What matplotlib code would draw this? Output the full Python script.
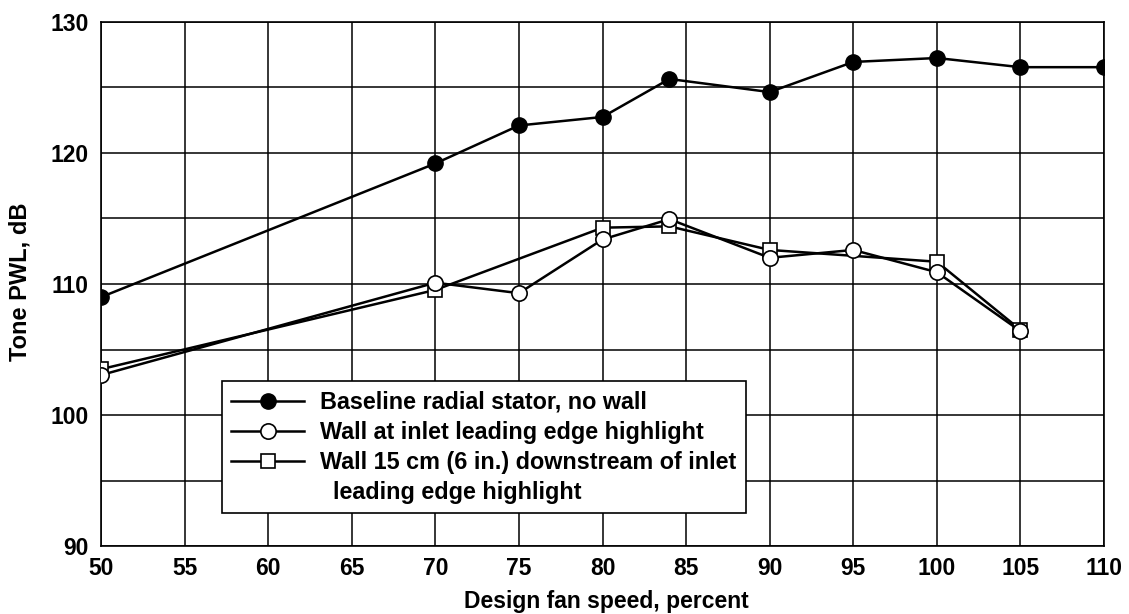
import matplotlib.pyplot as plt

plt.rcParams['font.family'] = ['Liberation Sans', 'DejaVu Sans']
plt.rcParams['font.weight'] = 'bold'

# Baseline radial stator, no wall
base_x = [50, 70, 75, 80, 84, 90, 95, 100, 105, 110]
base_y = [109.0, 119.2, 122.1, 122.75, 125.65, 124.65, 126.95, 127.25, 126.55, 126.55]

# Wall at inlet leading edge highlight
inlet_x = [50, 70, 75, 80, 84, 90, 95, 100, 105]
inlet_y = [103.05, 110.1, 109.3, 113.4, 114.95, 112.0, 112.6, 110.9, 106.4]

# Wall 15 cm (6 in.) downstream of inlet leading edge highlight
down_x = [50, 70, 80, 84, 90, 100, 105]
down_y = [103.5, 109.55, 114.3, 114.4, 112.6, 111.7, 106.5]

labels = ['Baseline radial stator, no wall',
          'Wall at inlet leading edge highlight',
          'Wall 15 cm (6 in.) downstream of inlet',
          '  leading edge highlight']

fig = plt.figure(figsize=(11.29, 6.14), dpi=100)
ax = fig.add_axes([0.0895, 0.1107, 0.8884, 0.8535])

ax.plot(base_x, base_y, '-o', color='black', lw=1.8, ms=11,
        mfc='black', mec='black', label=labels[0], zorder=3)
ax.plot(inlet_x, inlet_y, '-o', color='black', lw=1.8, ms=11,
        mfc='white', mec='black', mew=1.2, label=labels[1], zorder=4)
ax.plot(down_x, down_y, '-s', color='black', lw=1.8, ms=10.5,
        mfc='white', mec='black', mew=1.2, label=labels[2], zorder=3)
# empty handle for the wrapped second line of the last label
ax.plot([], [], ls='none', label=labels[3])

ax.set_xlim(50, 110)
ax.set_ylim(90, 130)
ax.set_xticks(range(50, 111, 5))
ax.set_yticks(range(90, 131, 10))
ax.set_yticks(range(95, 130, 10), minor=True)
ax.grid(True, which='both', color='black', lw=1.1)
ax.set_axisbelow(True)
ax.tick_params(which='both', length=0, labelsize=16.5)
ax.tick_params(axis='y', pad=9)
ax.tick_params(axis='x', pad=8)
for s in ax.spines.values():
    s.set_linewidth(1.2)

ax.set_xlabel('Design fan speed, percent', fontsize=16.5, fontweight='bold')
ax.set_ylabel('Tone PWL, dB', fontsize=17, fontweight='bold')
ax.xaxis.set_label_coords(0.504, -0.083)
ax.yaxis.set_label_coords(-0.069, 0.504)

leg = ax.legend(loc='lower left', bbox_to_anchor=(0.1206, 0.063),
                borderaxespad=0, prop={'size': 16.8, 'weight': 'bold'},
                handlelength=3.1, fancybox=False, framealpha=1,
                edgecolor='black', borderpad=0.4, labelspacing=0.3,
                handletextpad=0.7)
leg.get_frame().set_linewidth(1.2)

fig.savefig('out.png', dpi=100)
